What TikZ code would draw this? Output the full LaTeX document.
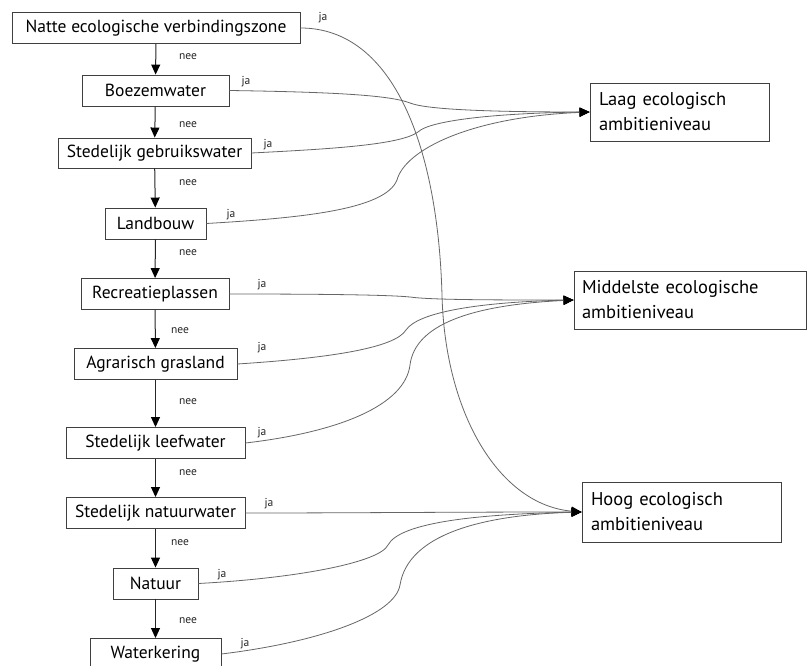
\documentclass[tikz,border=0pt]{standalone}
\usepackage{fontspec}
\setmainfont{PT Sans}
\usetikzlibrary{arrows.meta}
\begin{document}
\begin{tikzpicture}[x=1pt,y=-1pt,
  box/.style={draw=black!75, line width=0.9pt, inner sep=0pt, minimum height=31pt, font=\fontsize{17.5}{19}\selectfont},
  goal/.style={draw=black!75, line width=0.9pt, inner sep=0pt, align=left, font=\fontsize{18.5}{25}\selectfont},
  tip/.style={-{Triangle[length=10pt,width=9pt,color=black,fill=black]}},
  down/.style={draw=black!85, line width=1pt, tip},
  yes/.style={draw=black!60, line width=0.8pt, tip},
  lbl/.style={font=\fontsize{11.5}{13}\selectfont, inner sep=0pt, text=black!85}]
\useasboundingbox (0,0) rectangle (807,666);
\fill[white] (0,0) rectangle (807,666);
% column nodes
\node[box, minimum width=288pt] (natte) at (156,28) {Natte ecologische verbindingszone};
\node[box, minimum width=147pt] (boez) at (155.5,90.5) {Boezemwater};
\node[box, minimum width=193pt, minimum height=30pt] (gebr) at (154.5,153) {Stedelijk gebruikswater};
\node[box, minimum width=101pt] (land) at (155.5,223.5) {Landbouw};
\node[box, minimum width=148pt] (recr) at (155,294) {Recreatieplassen};
\node[box, minimum width=163pt] (agra) at (155.5,364) {Agrarisch grasland};
\node[box, minimum width=179pt] (leef) at (155.5,443) {Stedelijk leefwater};
\node[box, minimum width=179pt] (natw) at (155.5,513) {Stedelijk natuurwater};
\node[box, minimum width=85pt] (natu) at (155.5,583.5) {Natuur};
\node[box, minimum width=131pt] (wate) at (155.5,654) {Waterkering};
% goal nodes
\node[goal, minimum width=179pt, minimum height=58pt, text width=161pt] (laag) at (679.5,112) {Laag ecologisch\\ambitieniveau};
\node[goal, minimum width=232pt, minimum height=58pt, text width=216pt] (midd) at (690,300) {Middelste ecologische\\ambitieniveau};
\node[goal, minimum width=199pt, minimum height=60pt, text width=181pt] (hoog) at (681.5,512) {Hoog ecologisch\\ambitieniveau};
% nee arrows
\draw[down] (natte) -- (boez);
\draw[down] (boez) -- (gebr);
\draw[down] (gebr) -- (land);
\draw[down] (land) -- (recr);
\draw[down] (recr) -- (agra);
\draw[down] (agra) -- (leef);
\draw[down] (leef) -- (natw);
\draw[down] (natw) -- (natu);
\draw[down] (natu) -- (wate);
\node[lbl] (n1) at (188,57) {nee};
\node[lbl] (n2) at (188,125) {nee};
\node[lbl] (n3) at (188,183) {nee};
\node[lbl] (n4) at (188,253) {nee};
\node[lbl] (n5) at (180,331) {nee};
\node[lbl] (n6) at (188,402) {nee};
\node[lbl] (n7) at (188,473) {nee};
\node[lbl] (n8) at (180,543) {nee};
\node[lbl] (n9) at (188,621) {nee};
% ja labels
\node[lbl] (j1) at (323,18) {ja};
\node[lbl] (j2) at (246,82) {ja};
\node[lbl] (j3) at (268,145) {ja};
\node[lbl] (j4) at (231,215) {ja};
\node[lbl] (j5) at (262,285) {ja};
\node[lbl] (j6) at (262,348) {ja};
\node[lbl] (j7) at (262,433) {ja};
\node[lbl] (j8) at (269,504) {ja};
\node[lbl] (j9) at (222,575) {ja};
\node[lbl] (j10) at (245,644) {ja};
% ja connectors to Laag
\draw[yes] (boez.east) .. controls (330,92) and (390,95) .. (410,103) .. controls (425,109) and (480,112) .. (laag.west);
\draw[yes] (gebr.east) .. controls (330,149) and (400,145) .. (418,132) .. controls (430,120) and (500,113) .. (laag.west);
\draw[yes] (land.east) .. controls (300,218) and (385,210) .. (397,180) .. controls (405,150) and (470,117) .. (laag.west);
% ja connectors to Middelste
\draw[yes] (recr.east) .. controls (330,294) and (390,295) .. (410,297) .. controls (430,300) and (500,300) .. (midd.west);
\draw[yes] (agra.east) .. controls (330,358) and (395,348) .. (406,330) .. controls (418,312) and (480,302) .. (midd.west);
\draw[yes] (leef.east) .. controls (340,432) and (405,405) .. (410,365) .. controls (415,325) and (470,305) .. (midd.west);
% ja connectors to Hoog
\draw[yes] (natte.east) .. controls (395,28) and (438,150) .. (442,295) .. controls (445,415) and (500,505) .. (hoog.west);
\draw[yes] (natw.east) .. controls (350,513) and (450,512) .. (hoog.west);
\draw[yes] (natu.east) .. controls (300,578) and (380,562) .. (388,545) .. controls (400,522) and (480,514) .. (hoog.west);
\draw[yes] (wate.east) .. controls (320,642) and (395,615) .. (400,585) .. controls (408,535) and (480,515) .. (hoog.west);
\end{tikzpicture}
\end{document}
